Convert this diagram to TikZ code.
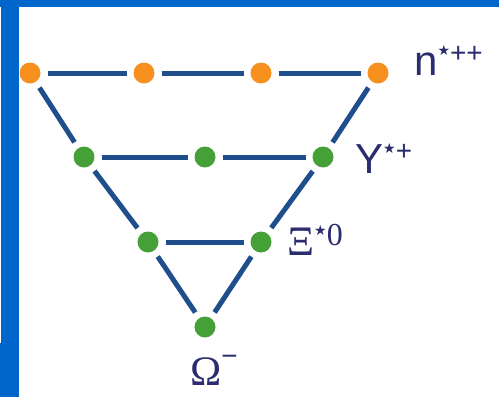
\documentclass[tikz,border=0pt]{standalone}
\usepackage{fontspec}
\setmainfont{Liberation Sans}
\newfontfamily\greekfont{Liberation Serif}
\newfontfamily\symfont{DejaVu Sans}
\newcommand{\starmark}{\raisebox{20pt}{\fontsize{14}{14}\selectfont\symfont ★}}
\newcommand{\upmark}[2]{\raisebox{#1}{\fontsize{28}{28}\selectfont #2}}
\begin{document}
\definecolor{frameblue}{HTML}{0066CC}
\definecolor{linkblue}{HTML}{1F4E8C}
\definecolor{labelblue}{HTML}{2B2D6E}
\definecolor{dotorange}{HTML}{F7901E}
\definecolor{dotgreen}{HTML}{45A038}
\begin{tikzpicture}
[
x = 1pt, y = -1pt,
dot/.style = {circle, inner sep=0pt, minimum size=21pt, outer sep=7pt},
odot/.style = {dot, fill=dotorange},
gdot/.style = {dot, fill=dotgreen},
link/.style = {draw=linkblue, line width=5pt},
partname/.style = {anchor=base west, inner sep=0pt, text=labelblue, font=\fontsize{42}{48}\selectfont}
]
\useasboundingbox (0,0) rectangle (499,397);
\fill [white] (0,0) rectangle (499,397);
\fill [frameblue] (0,0) rectangle (499,7);
\fill [frameblue] (0,0) rectangle (19,397);
\fill [white] (0,7) rectangle (1,343);
% decuplet rows
\node [odot] (n1) at (30,73) {};
\node [odot] (n2) at (144,73) {};
\node [odot] (n3) at (261,73) {};
\node [odot] (n4) at (378,73) {};
\node [gdot] (y1) at (84,157) {};
\node [gdot] (y2) at (205,157) {};
\node [gdot] (y3) at (323,157) {};
\node [gdot] (x1) at (148,242) {};
\node [gdot] (x2) at (261,242) {};
\node [gdot] (om) at (205,327) {};
% links
\draw [link] (n1) -- (n2);
\draw [link] (n2) -- (n3);
\draw [link] (n3) -- (n4);
\draw [link] (y1) -- (y2);
\draw [link] (y2) -- (y3);
\draw [link] (x1) -- (x2);
\draw [link] (n1) -- (y1);
\draw [link] (y1) -- (x1);
\draw [link] (x1) -- (om);
\draw [link] (n4) -- (y3);
\draw [link] (y3) -- (x2);
\draw [link] (x2) -- (om);
% names
\node [partname] (nlab) at (414,75) {n\starmark\upmark{13pt}{++}};
\node [partname] (ylab) at (355,173) {Y\starmark\upmark{13pt}{+}};
\node [partname] (xlab) at (287,255) {{\greekfont Ξ}\starmark\raisebox{10pt}{\fontsize{32}{32}\selectfont\greekfont 0}};
\node [partname] (olab) at (190,385) {{\greekfont Ω}\upmark{20pt}{−}};
\end{tikzpicture}
\end{document}
